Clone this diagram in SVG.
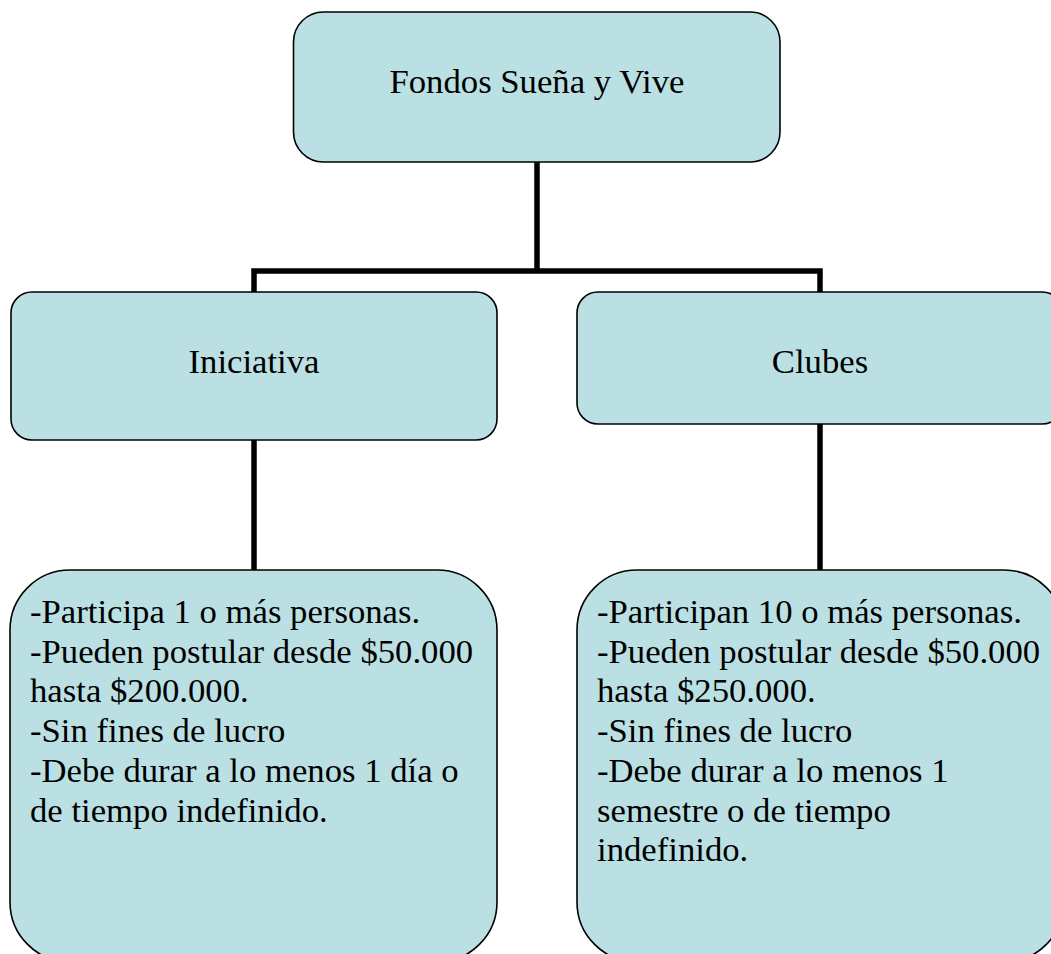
<svg xmlns="http://www.w3.org/2000/svg" width="1051" height="954" viewBox="0 0 1051 954">
<style>
.box{fill:#BBE0E3;stroke:#000;stroke-width:1.6}
.t{font-family:"Liberation Serif","Times New Roman",serif;font-size:34.7px;fill:#000}
.c{text-anchor:middle}
.conn{fill:none;stroke:#000;stroke-width:5.5;stroke-linecap:butt;stroke-linejoin:miter}
</style>
<rect width="1051" height="954" fill="#fff"/>
<g id="connectors">
<path class="conn" d="M537,162 V271"/>
<path class="conn" d="M254,292 V271 H820 V292"/>
<path class="conn" d="M254,440 V570"/>
<path class="conn" d="M820,424 V570"/>
</g>
<g id="root">
<rect class="box" x="293.5" y="12" width="486.5" height="150" rx="30" ry="30"/>
<text class="t c" x="537" y="93">Fondos Sueña y Vive</text>
</g>
<g id="iniciativa">
<rect class="box" x="11" y="292" width="486" height="148" rx="21" ry="21"/>
<text class="t c" x="254" y="373">Iniciativa</text>
</g>
<g id="clubes">
<rect class="box" x="577" y="292" width="486" height="132" rx="21" ry="21"/>
<text class="t c" x="820" y="373">Clubes</text>
</g>
<g id="iniciativa-detalle">
<rect class="box" x="10" y="570" width="487" height="392" rx="60" ry="60"/>
<text class="t" x="30">
<tspan x="30" y="622.7">-Participa 1 o más personas.</tspan>
<tspan x="30" y="662.5">-Pueden postular desde $50.000</tspan>
<tspan x="30" y="702.2">hasta $200.000.</tspan>
<tspan x="30" y="742">-Sin fines de lucro</tspan>
<tspan x="30" y="781.8">-Debe durar a lo menos 1 día o</tspan>
<tspan x="30" y="821.6">de tiempo indefinido.</tspan>
</text>
</g>
<g id="clubes-detalle">
<rect class="box" x="577" y="570" width="487" height="392" rx="60" ry="60"/>
<text class="t" x="597">
<tspan x="597" y="622.7">-Participan 10 o más personas.</tspan>
<tspan x="597" y="662.5">-Pueden postular desde $50.000</tspan>
<tspan x="597" y="702.2">hasta $250.000.</tspan>
<tspan x="597" y="742">-Sin fines de lucro</tspan>
<tspan x="597" y="781.8">-Debe durar a lo menos 1</tspan>
<tspan x="597" y="821.6">semestre o de tiempo</tspan>
<tspan x="597" y="861.4">indefinido.</tspan>
</text>
</g>
</svg>
